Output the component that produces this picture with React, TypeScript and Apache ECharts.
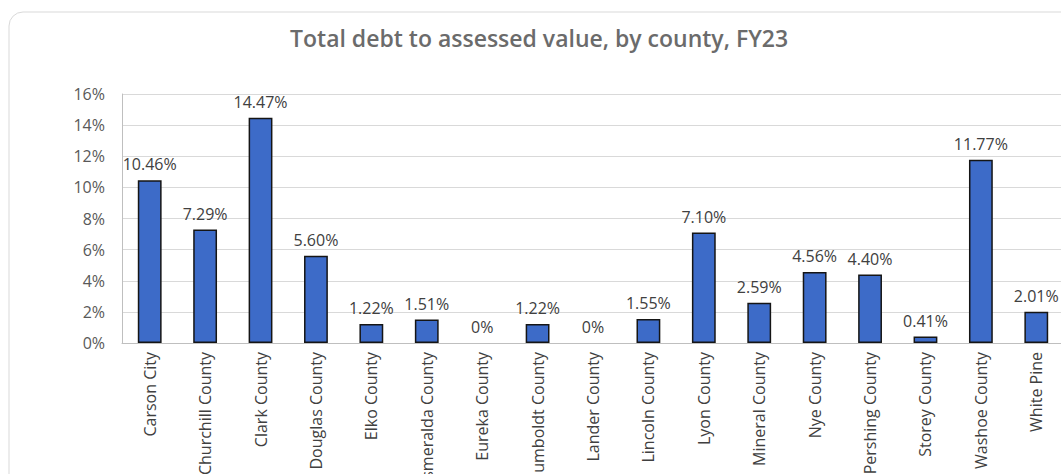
import React, { useEffect, useRef } from "react";
import * as echarts from "echarts";

const titleText = "Total debt to assessed value, by county, FY23";
const counties = [
  "Carson City", "Churchill County", "Clark County", "Douglas County", "Elko County",
  "Esmeralda County", "Eureka County", "Humboldt County", "Lander County", "Lincoln County",
  "Lyon County", "Mineral County", "Nye County", "Pershing County", "Storey County",
  "Washoe County", "White Pine",
];
const debtRatio = [10.46, 7.29, 14.47, 5.6, 1.22, 1.51, 0, 1.22, 0, 1.55, 7.1, 2.59, 4.56, 4.4, 0.41, 11.77, 2.01];
const yMin = 0;
const yMax = 16;
const yStep = 2;

export default function App() {
  const ref = useRef<HTMLDivElement>(null);
  useEffect(() => {
    if (!ref.current) return;
    const chart = echarts.init(ref.current, null, { renderer: "svg" });
    const font = "'Open Sans', 'Noto Sans', sans-serif";
    chart.setOption({
      animation: false,
      backgroundColor: "#ffffff",
      title: {
        text: titleText,
        left: 285,
        top: 21,
        textStyle: { fontFamily: font, fontSize: 23, fontWeight: 600, color: "#6b6b6b" },
      },
      graphic: [
        {
          type: "rect",
          shape: { x: 9, y: 12, width: 1100, height: 520, r: 14 },
          style: { fill: "none", stroke: "#d9d9d9", lineWidth: 1 },
          silent: true,
        },
      ],
      grid: {
        left: 122,
        top: 94,
        width: 942,
        height: 249,
        containLabel: false,
        outerBoundsMode: "none",
      },
      xAxis: {
        type: "category",
        data: counties,
        axisLine: { show: true, lineStyle: { color: "#bfbfbf" } },
        axisTick: { show: false },
        axisLabel: {
          interval: 0,
          rotate: 90,
          margin: 9,
          fontFamily: font,
          fontSize: 16,
          color: "#404040",
        },
      },
      yAxis: {
        type: "value",
        min: yMin,
        max: yMax,
        interval: yStep,
        axisLine: { show: true, lineStyle: { color: "#bfbfbf" } },
        axisTick: { show: false },
        splitLine: { lineStyle: { color: "#d9d9d9" } },
        axisLabel: {
          formatter: "{value}%",
          margin: 17,
          fontFamily: font,
          fontSize: 16,
          color: "#595959",
        },
      },
      series: [
        {
          type: "bar",
          data: debtRatio.map((v) => (v === 0 ? { value: v, itemStyle: { borderWidth: 0 } } : v)),
          barWidth: "43%",
          itemStyle: { color: "#3d6bc8", borderColor: "#151515", borderWidth: 1.5 },
          label: {
            show: true,
            position: "top",
            distance: 8,
            fontFamily: font,
            fontSize: 16,
            color: "#404040",
            formatter: (p: any) => (p.value === 0 ? "0%" : p.value.toFixed(2) + "%"),
          },
        },
      ],
    });
    return () => chart.dispose();
  }, []);
  return (
    <div
      ref={ref}
      style={{ position: "fixed", left: 0, top: 0, width: 1061, height: 474 }}
    />
  );
}
